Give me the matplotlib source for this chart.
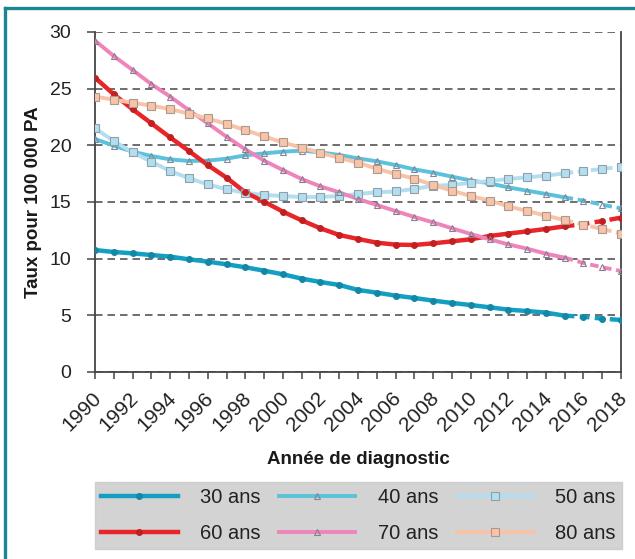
import numpy as np
import matplotlib
matplotlib.use("Agg")
import matplotlib.pyplot as plt
from matplotlib.font_manager import FontProperties
from matplotlib.lines import Line2D
import matplotlib.transforms as mtransforms

REG = "Liberation Sans"

years = list(range(1990, 2019))
tick_years = list(range(1990, 2019, 2))
y_ticks = [0, 5, 10, 15, 20, 25, 30]
last_observed = 2015

labels = ["30 ans", "40 ans", "50 ans", "60 ans", "70 ans", "80 ans"]

s30 = [10.76, 10.59, 10.47, 10.32, 10.18, 9.94, 9.74, 9.50, 9.24, 8.94,
       8.62, 8.24, 7.94, 7.68, 7.24, 7.00, 6.74, 6.53, 6.30, 6.09,
       5.91, 5.71, 5.50, 5.38, 5.24, 4.97, 4.88, 4.71, 4.59]
s40 = [20.56, 19.97, 19.44, 19.06, 18.76, 18.62, 18.65, 18.82, 19.12, 19.29,
       19.44, 19.53, 19.38, 19.15, 18.85, 18.59, 18.26, 17.88, 17.59, 17.24,
       16.90, 16.65, 16.29, 16.00, 15.71, 15.41, 15.12, 14.76, 14.44]
s50 = [21.50, 20.38, 19.38, 18.56, 17.74, 17.09, 16.56, 16.12, 15.82, 15.62,
       15.53, 15.44, 15.44, 15.53, 15.71, 15.85, 15.94, 16.15, 16.44, 16.50,
       16.70, 16.85, 17.03, 17.18, 17.32, 17.53, 17.74, 17.91, 18.12]
s60 = [25.97, 24.50, 23.18, 21.94, 20.70, 19.50, 18.26, 17.15, 15.85, 15.03,
       14.15, 13.38, 12.68, 12.09, 11.74, 11.41, 11.24, 11.21, 11.35, 11.53,
       11.71, 12.00, 12.21, 12.41, 12.62, 12.85, 13.06, 13.32, 13.62]
s70 = [29.24, 27.88, 26.65, 25.40, 24.30, 23.10, 21.94, 20.76, 19.65, 18.65,
       17.82, 17.03, 16.38, 15.85, 15.26, 14.74, 14.20, 13.68, 13.20, 12.68,
       12.18, 11.71, 11.26, 10.88, 10.44, 10.09, 9.62, 9.24, 8.91]
s80 = [24.30, 24.03, 23.76, 23.50, 23.20, 22.79, 22.38, 21.88, 21.35, 20.79,
       20.26, 19.79, 19.35, 18.88, 18.47, 17.94, 17.47, 17.06, 16.50, 16.00,
       15.53, 15.12, 14.62, 14.21, 13.79, 13.41, 13.00, 12.62, 12.21]

series = [s30, s40, s50, s60, s70, s80]
colors = ["#139fc2", "#5cc1dd", "#b3def0", "#e8262a", "#ef84bb", "#f8c3a6"]
markers = ["o", "^", "s", "o", "^", "s"]
mfc = ["#1487a6", "none", "#b3def0", "#c0201f", "none", "#f8c3a6"]
mec = ["#1487a6", "#7d8a98", "#8fa0a8", "#c0201f", "#8a7c92", "#a89a92"]
ms = [4.2, 5.0, 5.8, 4.2, 5.0, 5.8]
lws = [3.2, 2.8, 2.8, 3.2, 2.8, 2.8]

fig = plt.figure(figsize=(6.35, 5.59), dpi=100)
fig.patch.set_facecolor("white")
ax = fig.add_axes([95/635, (559-372)/559, (621-95)/635, (372-32)/559])

x = np.array(years)
cut = years.index(last_observed)
handles = []
for i, s in enumerate(series):
    s = np.array(s)
    ax.plot(x[:cut+1], s[:cut+1], color=colors[i], lw=lws[i], solid_capstyle="butt", zorder=3)
    ax.plot(x[cut:], s[cut:], color=colors[i], lw=lws[i], linestyle=(0, (2.2, 1.2)), zorder=3)
    ax.plot(x, s, linestyle="none", marker=markers[i], ms=ms[i], mfc=mfc[i],
            mec=mec[i], mew=0.8, zorder=4)
    h = Line2D([], [], color=colors[i], lw=lws[i], marker=markers[i], ms=ms[i],
               mfc=mfc[i], mec=mec[i], mew=0.8)
    handles.append(h)

ax.set_xlim(1990, 2018)
ax.set_ylim(0, 30)
ax.set_yticks(y_ticks)
ax.set_xticks(tick_years)
ax.set_xticks(years, minor=True)
ax.set_xticklabels([str(t) for t in tick_years])

ax.yaxis.grid(True, color="#555555", linestyle=(0, (4.5, 3)), lw=1.2)
ax.set_axisbelow(True)
for sp in ["left", "bottom", "right"]:
    ax.spines[sp].set_color("#444444")
    ax.spines[sp].set_linewidth(1.3)
ax.spines["top"].set_visible(False)

ax.tick_params(axis="y", which="major", direction="out", length=6, width=1.2,
               color="#555555", pad=11, labelsize=14, labelcolor="#222222")
ax.tick_params(axis="x", which="both", direction="out", length=5, width=1.1,
               color="#444444", labelsize=15, labelcolor="#222222", pad=4)
for lab in ax.get_yticklabels():
    lab.set_fontfamily(REG)
offset = mtransforms.ScaledTranslation(3/100, -11/100, fig.dpi_scale_trans)
for lab in ax.get_xticklabels():
    lab.set_fontfamily(REG)
    lab.set_rotation(45)
    lab.set_rotation_mode("anchor")
    lab.set_ha("right")
    lab.set_va("center")
    lab.set_transform(lab.get_transform() + offset)

ax.set_xlabel("Année de diagnostic", fontsize=13.5, fontweight="bold",
              family=REG, color="#1a1a1a")
ax.set_ylabel("Taux pour 100 000 PA", fontsize=13.5, fontweight="bold",
              family=REG, color="#1a1a1a")
ax.xaxis.set_label_coords(0.5, -0.232)
ax.yaxis.set_label_coords(-0.1, 0.5)

order = [0, 3, 1, 4, 2, 5]
leg = fig.legend([handles[i] for i in order], [labels[i] for i in order],
                 loc="lower left", ncol=3, mode="expand",
                 bbox_to_anchor=(95/635, (559-549)/559, (622-95)/635, (549-481)/559),
                 prop=FontProperties(family=REG, size=14.5),
                 handlelength=3.8, handletextpad=1.1, labelspacing=0.85,
                 borderpad=0.3, columnspacing=1.5, frameon=True, fancybox=False,
                 borderaxespad=0)
leg.get_frame().set_facecolor("#c8c8c9")
leg.get_frame().set_edgecolor("#c8c8c9")
for t in leg.get_texts():
    t.set_color("#222222")

# teal frame around the figure
fig.add_artist(Line2D([5/635, 1.0], [1 - 8/559, 1 - 8/559], color="#1b8593", lw=2.4,
                      transform=fig.transFigure))
fig.add_artist(Line2D([5/635, 5/635], [0, 1 - 8/559], color="#1b8593", lw=2.4,
                      transform=fig.transFigure))

fig.savefig("out.png", dpi=100)
